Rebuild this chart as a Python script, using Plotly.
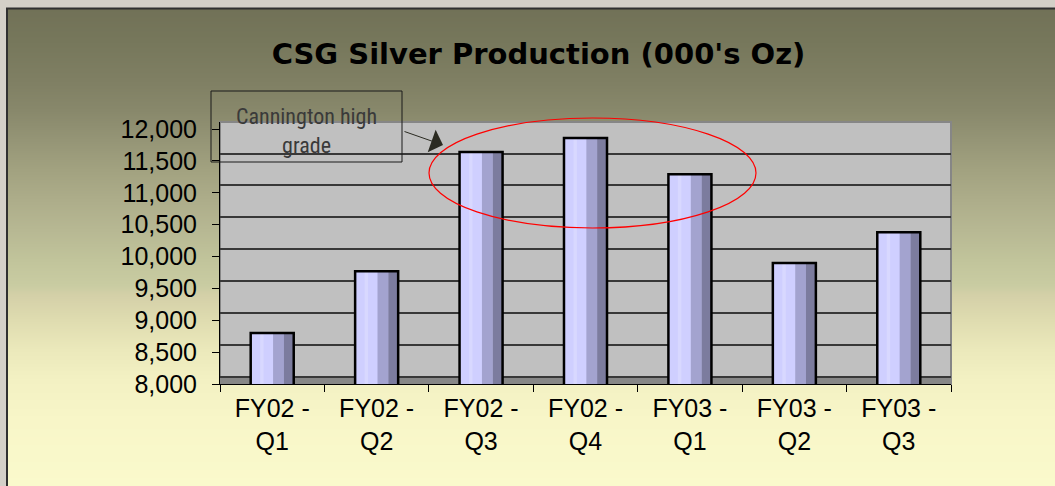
import base64
import struct
import zlib

import plotly.graph_objects as go

# ---------------- data ----------------
categories = ["FY02 - Q1", "FY02 - Q2", "FY02 - Q3", "FY02 - Q4",
              "FY03 - Q1", "FY03 - Q2", "FY03 - Q3"]
silver_koz = [8800, 9770, 11640, 11860, 11290, 9900, 10380]
tick_labels = [c.replace(" - ", " -<br>") for c in categories]
y_tick_values = [8000, 8500, 9000, 9500, 10000, 10500, 11000, 11500, 12000]

title_text = "CSG Silver Production (000's Oz)"
note_text = "Cannington high<br>grade"

# ---------------- geometry helpers (pixel -> paper) ----------------
W, H = 1055, 486
L, R, T, B = 220, 104, 122, 102
PW, PH = W - L - R, H - T - B


def px(x):
    return (x - L) / PW


def py(y):
    return (H - B - y) / PH


# ---------------- gradient background image ----------------
grad_stops = [
    (8, (0x71, 0x71, 0x57)), (40, (0x76, 0x77, 0x5b)), (80, (0x7f, 0x7f, 0x63)),
    (110, (0x88, 0x88, 0x6b)), (140, (0x95, 0x95, 0x76)), (170, (0xa2, 0xa2, 0x80)),
    (200, (0xad, 0xad, 0x8a)), (230, (0xb7, 0xb8, 0x93)), (260, (0xc1, 0xc4, 0x9b)),
    (285, (0xc9, 0xcc, 0xa2)), (295, (0xd4, 0xd0, 0xa8)), (320, (0xdf, 0xdc, 0xb0)),
    (350, (0xeb, 0xe9, 0xbb)), (380, (0xf3, 0xf1, 0xc3)), (420, (0xf8, 0xf6, 0xc8)),
    (486, (0xfa, 0xfa, 0xcc)),
]


def gradient_png(stops, y0, y1):
    rows = b""
    for y in range(y0, y1):
        for (ya, ca), (yb, cb) in zip(stops[:-1], stops[1:]):
            if ya <= y <= yb:
                t = (y - ya) / (yb - ya)
                c = [round(a + (b - a) * t) for a, b in zip(ca, cb)]
                break
        else:
            c = list(stops[-1][1])
        rows += b"\x00" + bytes(c)

    def chunk(tag, data):
        return (struct.pack(">I", len(data)) + tag + data
                + struct.pack(">I", zlib.crc32(tag + data) & 0xFFFFFFFF))

    png = (b"\x89PNG\r\n\x1a\n"
           + chunk(b"IHDR", struct.pack(">IIBBBBB", 1, y1 - y0, 8, 2, 0, 0, 0))
           + chunk(b"IDAT", zlib.compress(rows))
           + chunk(b"IEND", b""))
    return "data:image/png;base64," + base64.b64encode(png).decode()


bg_src = gradient_png(grad_stops, 8, 486)

# ---------------- bars (cylinder-like shading) ----------------
bw = 0.412
fig = go.Figure()
fig.add_bar(x=categories, y=silver_koz, width=bw, offset=-bw / 2,
            marker=dict(color="#cfcfff", line=dict(width=0)), hoverinfo="skip")
fig.add_bar(x=categories, y=silver_koz, width=bw * 0.08, offset=-bw / 2 + bw * 0.22,
            marker=dict(color="#d8d8ff", line=dict(width=0)), hoverinfo="skip")
fig.add_bar(x=categories, y=silver_koz, width=bw * 0.25, offset=-bw / 2 + bw * 0.52,
            marker=dict(color="#a3a3cf", line=dict(width=0)), hoverinfo="skip")
fig.add_bar(x=categories, y=silver_koz, width=bw * 0.23, offset=-bw / 2 + bw * 0.77,
            marker=dict(color="#7c7c9e", line=dict(width=0)), hoverinfo="skip")
fig.add_bar(x=categories, y=silver_koz, width=bw, offset=-bw / 2,
            marker=dict(color="rgba(0,0,0,0)", line=dict(width=2.5, color="#000000")),
            hoverinfo="skip")
# empty trace so the offset grid axis (back wall) is drawn
fig.add_scatter(x=[], y=[], yaxis="y2", showlegend=False, hoverinfo="skip")

font_main = "Arial, 'Liberation Sans', sans-serif"
font_title = "'DejaVu Sans', Arial, sans-serif"

fig.update_layout(
    width=W, height=H,
    margin=dict(l=L, r=R, t=T, b=B, pad=0),
    barmode="overlay",
    showlegend=False,
    paper_bgcolor="#d4d0c8",
    plot_bgcolor="rgba(0,0,0,0)",
    font=dict(family=font_main, color="#000000", size=25),
    title=dict(text=title_text, x=px(538.5), xref="paper", xanchor="center",
               y=1 - 54 / H, yanchor="middle",
               font=dict(family=font_title, size=29, weight="bold", color="#000000")),
    xaxis=dict(
        type="category", range=[-0.5, 6.5],
        tickvals=categories, ticktext=tick_labels,
        tickson="boundaries", ticks="outside", ticklen=7, tickcolor="#000000",
        showline=True, linecolor="#000000", linewidth=1,
        showgrid=False, zeroline=False, ticklabelstandoff=2,
        tickfont=dict(size=25, family=font_main, color="#000000"),
    ),
    yaxis=dict(
        range=[8000, 12110], tickvals=y_tick_values, tickformat=",d",
        ticks="outside", ticklen=7, tickcolor="#000000",
        showline=True, linecolor="#000000", linewidth=1,
        showgrid=False, zeroline=False, ticklabelstandoff=10,
        tickfont=dict(size=25, family=font_main, color="#000000"),
    ),
    yaxis2=dict(
        overlaying="y", range=[8000 - 115, 12110 - 115], tick0=0, dtick=500,
        showgrid=True, gridcolor="#383838", gridwidth=1.5,
        showticklabels=False, ticks="", showline=False, zeroline=False,
    ),
    images=[dict(source=bg_src, xref="paper", yref="paper",
                 x=px(7), y=py(8), sizex=(1060 - 7) / PW, sizey=(486 - 8) / PH,
                 xanchor="left", yanchor="top", sizing="stretch", layer="below")],
    shapes=[
        # outer dark frame
        dict(type="rect", xref="paper", yref="paper", x0=px(7), x1=px(1070),
             y0=py(500), y1=py(8.5), line=dict(color="#303030", width=2),
             fillcolor="rgba(0,0,0,0)", layer="below"),
        # back wall
        dict(type="rect", xref="paper", yref="paper", x0=0, x1=1, y0=0, y1=1,
             fillcolor="#c0c0c0", line=dict(color="#868686", width=2), layer="below"),
        # floor band
        dict(type="rect", xref="paper", yref="y", x0=0, x1=1, y0=8000, y1=8115,
             fillcolor="#878787", line=dict(width=0), layer="below"),
        # annotation box
        dict(type="rect", xref="paper", yref="paper", x0=px(211), x1=px(402),
             y0=py(162), y1=py(91), line=dict(color="#1a1a1a", width=1),
             fillcolor="rgba(0,0,0,0)", layer="above"),
        # red ellipse
        dict(type="circle", xref="paper", yref="paper", x0=px(429), x1=px(756),
             y0=py(228), y1=py(118), line=dict(color="#ff0000", width=1.2),
             fillcolor="rgba(0,0,0,0)", layer="above"),
    ],
    annotations=[
        dict(text=note_text, xref="paper", yref="paper", x=px(306.5), y=py(131),
             xanchor="center", yanchor="middle", showarrow=False,
             font=dict(family="'Liberation Sans Narrow', 'Arial Narrow', 'Roboto Condensed', sans-serif",
                       size=22, color="#3a3a3a")),
        dict(text="", xref="paper", yref="paper", x=px(443), y=py(145),
             ax=-40, ay=-14, axref="pixel", ayref="pixel",
             showarrow=True, arrowhead=1, arrowsize=4, arrowwidth=1,
             arrowcolor="#2b2b22"),
    ],
)

fig.write_html(
    "out.html",
    config={"displayModeBar": False},
    post_script="document.body.style.margin='0';document.body.style.overflow='hidden';",
)
